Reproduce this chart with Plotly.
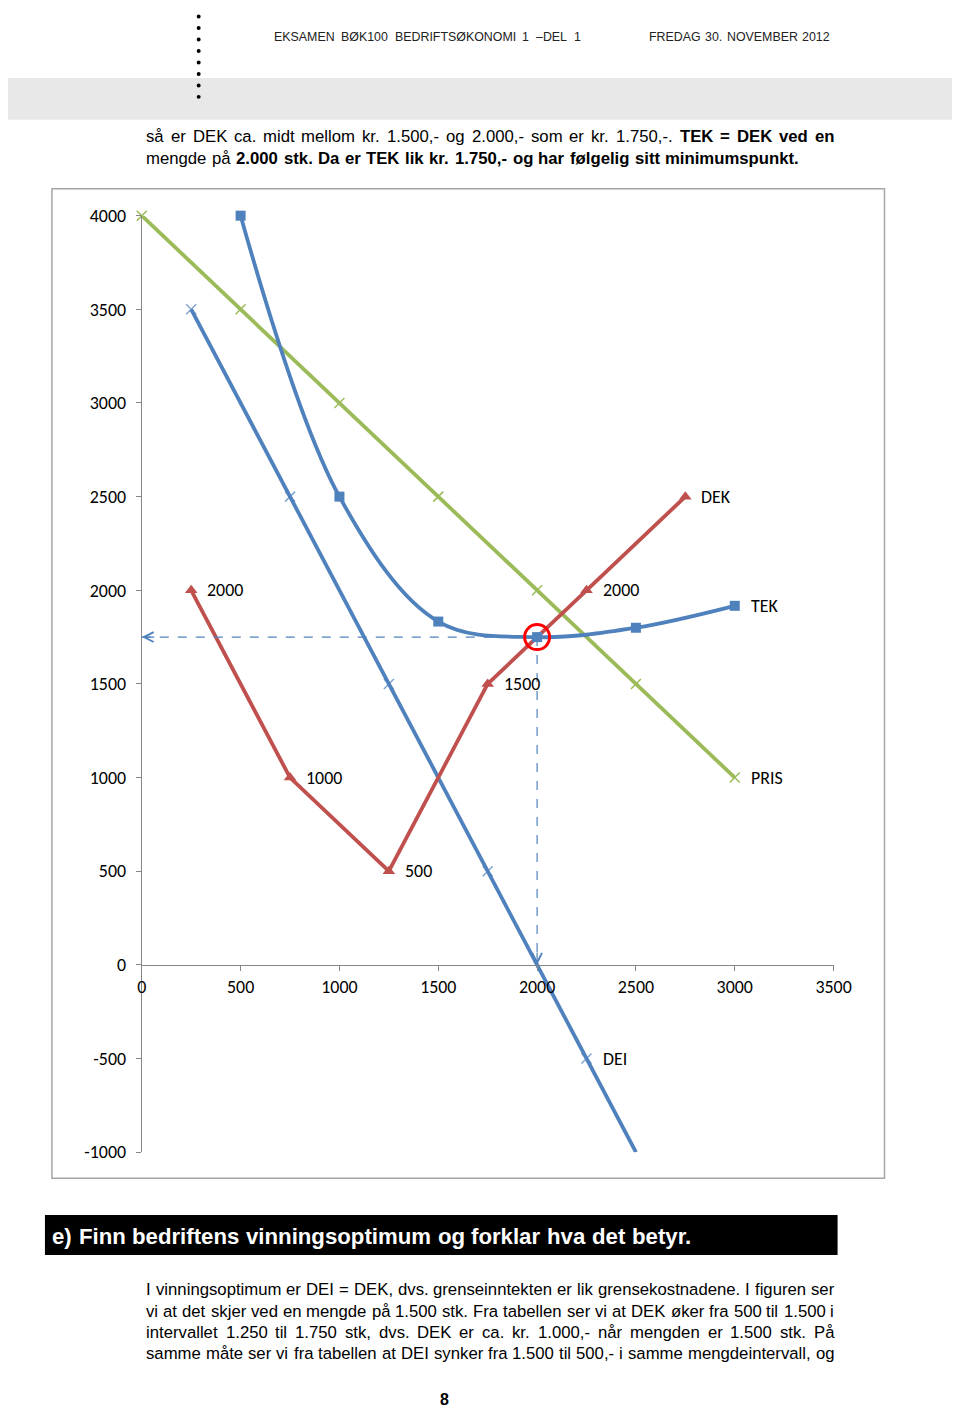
import plotly.graph_objects as go

# ---------------- data ----------------
q_pris = [0, 500, 1000, 1500, 2000, 2500, 3000]
pris = [4000, 3500, 3000, 2500, 2000, 1500, 1000]

q_dei = [250, 750, 1250, 1750, 2250, 2500]
dei = [3500, 2500, 1500, 500, -500, -1000]

q_tek = [500, 1000, 1500, 2000, 2500, 3000]
tek = [4000, 2500, 1833, 1750, 1800, 1917]

q_dek = [250, 750, 1250, 1750, 2250, 2750]
dek = [2000, 1000, 500, 1500, 2000, 2500]
dek_labels = ["2000", "1000", "500", "1500", "2000", "DEK"]

x_ticks = [0, 500, 1000, 1500, 2000, 2500, 3000, 3500]
y_ticks = [-1000, -500, 0, 500, 1000, 1500, 2000, 2500, 3000, 3500, 4000]

opt_i = 3  # TEK minimum point (q = 2000)

header_left = "EKSAMEN BØK100 BEDRIFTSØKONOMI 1 –DEL 1"
header_right = "FREDAG 30. NOVEMBER 2012"
top_lines = [
    [("så er DEK ca. midt mellom kr. 1.500,- og 2.000,- som er kr. 1.750,-.", False),
     ("TEK = DEK ved en", True)],
    [("mengde på", False), ("2.000 stk. Da er TEK lik kr. 1.750,- og har følgelig sitt minimumspunkt.", True)],
]
banner_text = "e) Finn bedriftens vinningsoptimum og forklar hva det betyr."
bottom_lines = [
    "I vinningsoptimum er DEI = DEK, dvs. grenseinntekten er lik grensekostnadene. I figuren ser",
    "vi at det skjer ved en mengde på 1.500 stk. Fra tabellen ser vi at DEK øker fra 500 til 1.500 i",
    "intervallet 1.250 til 1.750 stk, dvs. DEK er ca. kr. 1.000,- når mengden er 1.500 stk. På",
    "samme måte ser vi fra tabellen at DEI synker fra 1.500 til 500,- i samme mengdeintervall, og",
]
page_number = "8"

# ---------------- styling / geometry ----------------
GREEN = "#9BBB59"
BLUE = "#4F81BD"
RED = "#C0504D"
CHART_FONT = "Carlito, Lato, sans-serif"
PAGE_FONT = "Liberation Sans, Arial, sans-serif"

# rendering transform observed in the harness: screen = O + S * figure
OX, OY = 11.0, 17.0
SX, SY = 0.978, 0.986
W, H = 971, 1412


def px(x):  # reference pixel -> paper
    return ((x - OX) / SX) / W


def py(y):
    return 1 - ((y - OY) / SY) / H


# plot area in reference pixels
PL, PR, PT, PB = 140, 833, 214, 1152
XR = [x_ticks[0], x_ticks[-1]]
YR = [y_ticks[0], y_ticks[-1]]
ydom = [py(PB), py(PT)]
xaxis_pos = ydom[0] + (0 - YR[0]) / (YR[1] - YR[0]) * (ydom[1] - ydom[0])

# Arial / Liberation Sans advance widths (1/1000 em)
REG = dict(zip(" ,-.()=:–", [278, 278, 333, 278, 333, 333, 584, 278, 556]))
REG.update({c: 556 for c in "0123456789"})
REG.update(dict(zip("ABCDEFGHIJKLMNOPQRSTUVWXYZ",
                    [667, 667, 722, 722, 667, 611, 778, 722, 278, 500, 667, 556, 833, 722,
                     778, 667, 778, 722, 667, 611, 722, 667, 944, 667, 667, 611])))
REG.update(dict(zip("abcdefghijklmnopqrstuvwxyz",
                    [556, 556, 500, 556, 556, 278, 556, 556, 222, 222, 500, 222, 833, 556,
                     556, 556, 556, 333, 500, 278, 556, 500, 722, 500, 500, 500])))
REG.update({"å": 556, "ø": 611, "æ": 889, "Ø": 778, "Å": 667, "Æ": 1000})
BOLD = dict(zip(" ,-.()=:–", [278, 278, 333, 278, 333, 333, 584, 333, 556]))
BOLD.update({c: 556 for c in "0123456789"})
BOLD.update(dict(zip("ABCDEFGHIJKLMNOPQRSTUVWXYZ",
                     [722, 722, 722, 722, 667, 611, 778, 722, 278, 556, 722, 611, 833, 722,
                      778, 667, 778, 722, 667, 611, 722, 667, 944, 667, 667, 611])))
BOLD.update(dict(zip("abcdefghijklmnopqrstuvwxyz",
                     [556, 611, 556, 611, 556, 333, 611, 611, 278, 278, 556, 278, 889, 611,
                      611, 611, 611, 389, 556, 333, 611, 556, 778, 556, 556, 500])))
BOLD.update({"å": 556, "ø": 611, "æ": 889, "Ø": 778, "Å": 722, "Æ": 1000})


def text_w(s, bold=False):
    t = BOLD if bold else REG
    return sum(t.get(c, 556) for c in s) / 1000.0


def tokens(line):
    if isinstance(line, str):
        line = [(line, False)]
    out = []
    for seg, b in line:
        for wd in seg.split():
            out.append((wd, b))
    return out


def natural_em(line, gap_em=0.278):
    toks = tokens(line)
    return sum(text_w(w, b) for w, b in toks) + (len(toks) - 1) * gap_em


annotations = []
PAD_SHIFT = 1.5  # annotation box padding


def place_line(line, left, right, y, size, justify=True, color="#000000"):
    toks = tokens(line)
    widths = [text_w(w, b) * size for w, b in toks]
    if justify and len(toks) > 1:
        gap = (right - left - sum(widths)) / (len(toks) - 1)
    else:
        gap = REG[" "] / 1000.0 * size
    x = left
    for (wd, b), wpx in zip(toks, widths):
        annotations.append(dict(x=px(x - PAD_SHIFT), y=py(y), xref="paper", yref="paper",
                                showarrow=False, xanchor="left", yanchor="middle",
                                borderpad=0, borderwidth=0,
                                text=f"<b>{wd}</b>" if b else wd,
                                font=dict(family=PAGE_FONT, size=size, color=color)))
        x += wpx + gap


fig = go.Figure()

fig.add_trace(go.Scatter(
    x=q_pris, y=pris, mode="lines+markers", cliponaxis=False,
    line=dict(color=GREEN, width=3.8),
    marker=dict(symbol="x-thin", size=10, color=GREEN, line=dict(color=GREEN, width=1.5)),
    showlegend=False))

fig.add_trace(go.Scatter(
    x=q_dei, y=dei, mode="lines+markers", cliponaxis=False,
    line=dict(color=BLUE, width=3.8),
    marker=dict(symbol="x-thin", size=[10, 10, 10, 10, 10, 0], color=BLUE,
                line=dict(color=BLUE, width=1.5)),
    showlegend=False))

fig.add_trace(go.Scatter(
    x=q_dek, y=dek, mode="lines+markers", cliponaxis=False,
    line=dict(color=RED, width=3.8),
    marker=dict(symbol="triangle-up", size=11, color=RED),
    showlegend=False))

# dashed guide lines
ox, oy = q_tek[opt_i], tek[opt_i]
fig.add_trace(go.Scatter(
    x=[XR[0], ox], y=[oy, oy], mode="lines", cliponaxis=False,
    line=dict(color=BLUE, width=1.2, dash="dash"), showlegend=False))
fig.add_trace(go.Scatter(
    x=[ox, ox], y=[oy, 0], mode="lines", cliponaxis=False,
    line=dict(color=BLUE, width=1.2, dash="dash"), showlegend=False))

fig.add_trace(go.Scatter(
    x=q_tek, y=tek, mode="lines+markers", cliponaxis=False,
    line=dict(color=BLUE, width=3.8, shape="spline", smoothing=1.0),
    marker=dict(symbol="square", size=10, color=BLUE),
    showlegend=False))

# red circle at optimum
fig.add_trace(go.Scatter(
    x=[ox], y=[oy], mode="markers", cliponaxis=False,
    marker=dict(symbol="circle-open", size=25, color="#FF0000",
                line=dict(color="#FF0000", width=3)),
    showlegend=False))

# arrow heads
annotations.append(dict(x=XR[0], y=oy, xref="x", yref="y", ax=14, ay=0, text="",
                        showarrow=True, arrowhead=5, arrowsize=1.6, arrowwidth=1.2,
                        arrowcolor=BLUE))
annotations.append(dict(x=ox, y=0, xref="x", yref="y", ax=0, ay=-14, text="",
                        showarrow=True, arrowhead=5, arrowsize=1.6, arrowwidth=1.2,
                        arrowcolor=BLUE))

# data labels
CH_SIZE = 17.9
lab_font = dict(family=CHART_FONT, size=CH_SIZE, color="#000000")
for xv, yv, t in zip(q_dek, dek, dek_labels):
    annotations.append(dict(x=xv, y=yv, xref="x", yref="y", text=t, showarrow=False,
                            xanchor="left", yanchor="middle", xshift=14, font=lab_font))
annotations.append(dict(x=q_tek[-1], y=tek[-1], xref="x", yref="y", text="TEK", showarrow=False,
                        xanchor="left", yanchor="middle", xshift=14, font=lab_font))
annotations.append(dict(x=q_pris[-1], y=pris[-1], xref="x", yref="y", text="PRIS", showarrow=False,
                        xanchor="left", yanchor="middle", xshift=14, font=lab_font))
annotations.append(dict(x=q_dei[4], y=dei[4], xref="x", yref="y", text="DEI", showarrow=False,
                        xanchor="left", yanchor="middle", xshift=14, font=lab_font))

# header (justified to its measured extent, giving the wide word spacing of the original)
hs = 12.4
place_line(header_left, 274, 581, 35, hs, justify=True, color="#222222")
place_line(header_right, 650, 830, 35, hs, justify=True, color="#222222")

# paragraph font size: fit the last line, but keep a real gap in justified lines
tsz = 654 / natural_em(top_lines[1])
for ln in [top_lines[0]] + bottom_lines:
    tsz = min(tsz, 689 / natural_em(ln, 0.30))
place_line(top_lines[0], 146, 835, 135, tsz, justify=True)
place_line(top_lines[1], 146, 800, 156.5, tsz, justify=True)

# banner
bsz = 641 / natural_em([(banner_text, True)], 0.30)
place_line([(banner_text, True)], 52, 693, 1236, bsz, justify=True, color="#FFFFFF")

# bottom paragraph (all lines justified)
for i, ln in enumerate(bottom_lines):
    place_line(ln, 146, 835, 1290 + 21.3 * i, tsz, justify=True)

annotations.append(dict(x=px(443), y=py(1400), xref="paper", yref="paper", showarrow=False,
                        xanchor="center", yanchor="middle", text=f"<b>{page_number}</b>",
                        font=dict(family=PAGE_FONT, size=16, color="#000000")))

shapes = []
# gray band
shapes.append(dict(type="rect", xref="paper", yref="paper", x0=px(3), x1=px(960),
                   y0=py(118), y1=py(76), fillcolor="#E8E8E8", line=dict(width=0), layer="below"))
# vertical dots
for dy in [3, 14.5, 26, 37.5, 49, 60.5, 72, 83.5, 95]:
    shapes.append(dict(type="circle", xref="paper", yref="paper",
                       x0=px(195), x1=px(199), y0=py(dy + 2), y1=py(dy - 2),
                       fillcolor="#000000", line=dict(width=0)))
# chart border
shapes.append(dict(type="rect", xref="paper", yref="paper", x0=px(50), x1=px(884),
                   y0=py(1178), y1=py(187), line=dict(color="#A6A6A6", width=1.5),
                   fillcolor="rgba(0,0,0,0)", layer="below"))
# black banner
shapes.append(dict(type="rect", xref="paper", yref="paper", x0=px(43), x1=px(837),
                   y0=py(1255), y1=py(1215), fillcolor="#000000", line=dict(width=0),
                   layer="below"))

tick_font = dict(family=CHART_FONT, size=CH_SIZE, color="#000000")
fig.update_layout(
    width=W, height=H, autosize=False,
    margin=dict(l=0, r=0, t=0, b=0),
    paper_bgcolor="#FFFFFF", plot_bgcolor="rgba(0,0,0,0)",
    xaxis=dict(domain=[px(PL), px(PR)], range=XR, tickvals=x_ticks,
               ticktext=[str(v) for v in x_ticks],
               anchor="free", position=xaxis_pos,
               showgrid=False, zeroline=False, showline=True, linecolor="#868686",
               linewidth=1.3, ticks="outside", ticklen=5, tickcolor="#868686",
               tickfont=tick_font),
    yaxis=dict(domain=ydom, range=YR, tickvals=y_ticks,
               ticktext=[str(v) for v in y_ticks],
               showgrid=False, zeroline=False, showline=True, linecolor="#868686",
               linewidth=1.3, ticks="outside", ticklen=5, tickcolor="#868686",
               ticklabelstandoff=6,
               tickfont=tick_font),
    annotations=annotations,
    shapes=shapes,
)

fig.write_html("out.html")
